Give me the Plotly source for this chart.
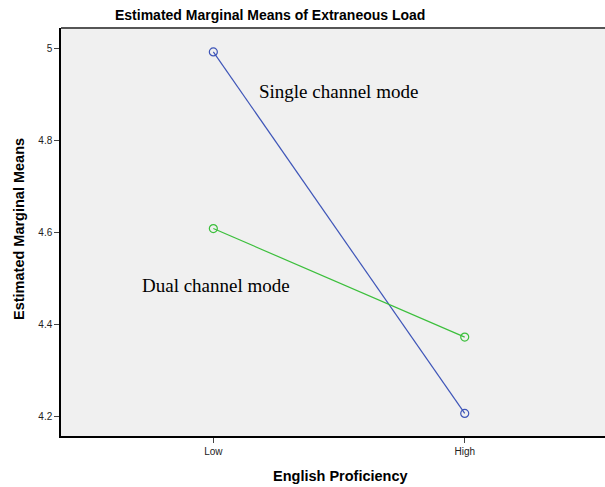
import plotly.graph_objects as go

categories = ["Low", "High"]
single_channel = [4.992, 4.206]
dual_channel = [4.608, 4.372]
y_ticks = [4.2, 4.4, 4.6, 4.8, 5.0]
y_tick_labels = ["4.2", "4.4", "4.6", "4.8", "5"]

fig = go.Figure()
fig.add_trace(go.Scatter(x=categories, y=single_channel, mode="lines+markers",
                         line=dict(color="#3E55B8", width=1.2),
                         marker=dict(symbol="circle-open", size=8, color="#3E55B8", line=dict(width=1.2)),
                         name="Single channel mode", showlegend=False))
fig.add_trace(go.Scatter(x=categories, y=dual_channel, mode="lines+markers",
                         line=dict(color="#3CBF3C", width=1.2),
                         marker=dict(symbol="circle-open", size=8, color="#3CBF3C", line=dict(width=1.2)),
                         name="Dual channel mode", showlegend=False))

fig.update_layout(
    width=605, height=487,
    margin=dict(l=61, r=0, t=28, b=51),
    paper_bgcolor="white", plot_bgcolor="#F0F0F0",
    font=dict(family="Liberation Sans, Arial", color="#222222"),
    xaxis=dict(type="category", range=[-0.606, 1.558], showgrid=False, zeroline=False,
               showline=True, linecolor="black", linewidth=1.5,
               ticks="outside", ticklen=5, tickcolor="#444444",
               tickfont=dict(size=10, color="#222222")),
    yaxis=dict(range=[4.157, 5.044], tickvals=y_ticks, ticktext=y_tick_labels,
               showgrid=False, zeroline=False, showline=True, linecolor="black", linewidth=1.5,
               ticks="outside", ticklen=5, tickcolor="#444444",
               tickfont=dict(size=10, color="#222222")),
    shapes=[dict(type="line", xref="paper", yref="paper", x0=0, x1=1, y0=1, y1=1,
                 line=dict(color="#555555", width=2))],
    annotations=[
        dict(text="<b>Estimated Marginal Means of Extraneous Load</b>", xref="paper", yref="paper",
             x=(270 - 61) / 544, y=1, yshift=13, xanchor="center", yanchor="middle", showarrow=False,
             font=dict(size=14, family="Liberation Sans, Arial", color="black")),
        dict(text="<b>English Proficiency</b>", xref="paper", yref="paper",
             x=(340 - 61) / 544, y=0, yshift=-40, xanchor="center", yanchor="middle", showarrow=False,
             font=dict(size=14.5, family="Liberation Sans, Arial", color="black")),
        dict(text="<b>Estimated Marginal Means</b>", xref="paper", yref="paper",
             x=0, xshift=-42, y=(436 - 229) / 408, xanchor="center", yanchor="middle",
             showarrow=False, textangle=-90,
             font=dict(size=14.5, family="Liberation Sans, Arial", color="black")),
        dict(text="Single channel mode", xref="paper", yref="paper",
             x=(338 - 61) / 544, y=(436 - 91) / 408, xanchor="center", yanchor="middle", showarrow=False,
             font=dict(size=19, family="Liberation Serif, Times New Roman", color="black")),
        dict(text="Dual channel mode", xref="paper", yref="paper",
             x=(216 - 61) / 544, y=(436 - 285) / 408, xanchor="center", yanchor="middle", showarrow=False,
             font=dict(size=19, family="Liberation Serif, Times New Roman", color="black")),
    ],
)

fig.write_html("out.html", config={"displayModeBar": False},
               post_script="document.body.style.margin='0';document.body.style.overflow='hidden';")
